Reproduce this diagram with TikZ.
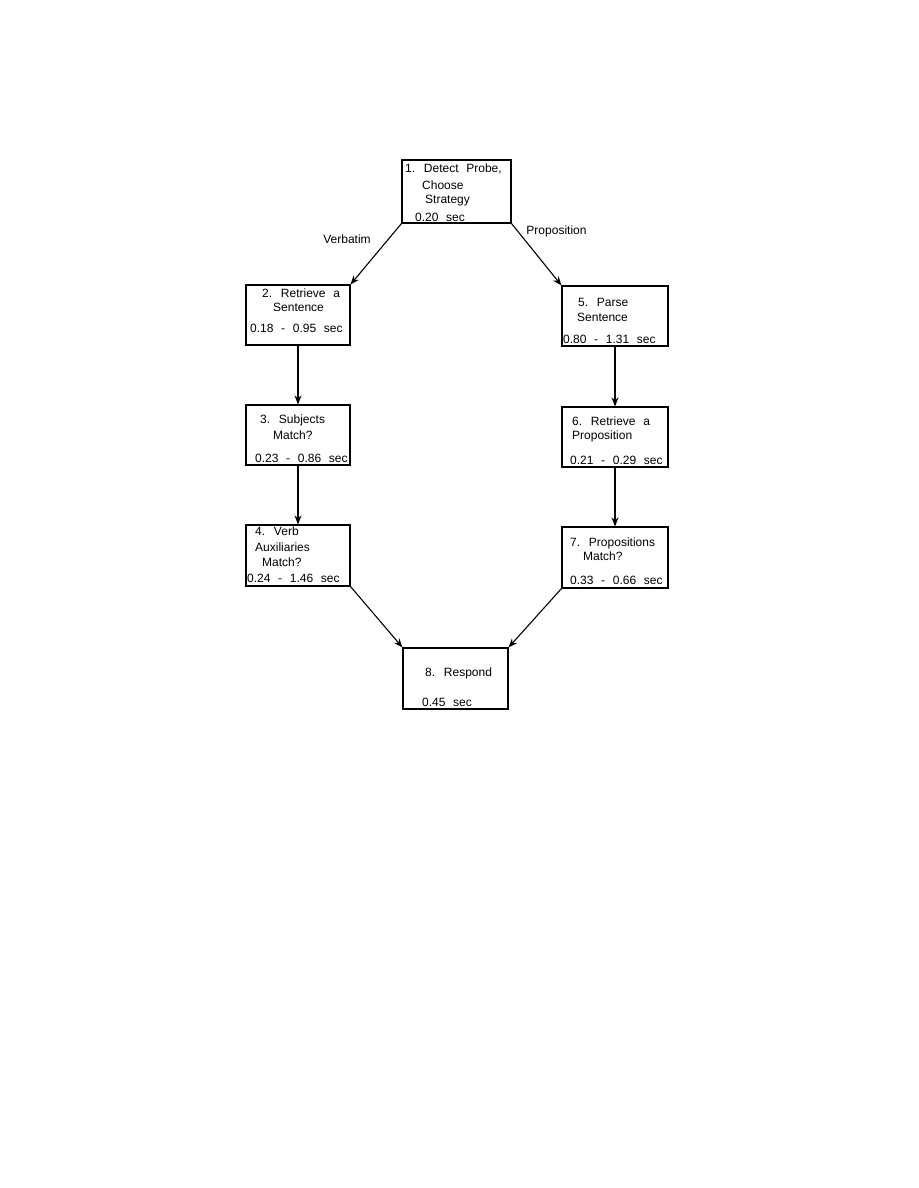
\documentclass[tikz,border=0pt]{standalone}
\usepackage{fontspec}
\setmainfont{Liberation Sans}[WordSpace=2.3]
\usetikzlibrary{arrows.meta}
\tikzset{
  box/.style={draw, line width=1.1pt, inner sep=0pt},
  txt/.style={anchor=west, inner sep=0pt, font=\fontsize{12}{14.5}\selectfont},
  lbl/.style={inner sep=0pt, font=\fontsize{12}{14.5}\selectfont},
  arr/.style={line width=1.1pt, -{Stealth[length=9pt,width=7pt]}}
}
\begin{document}
\begin{tikzpicture}[x=1pt,y=-1pt]
\useasboundingbox (0,0) rectangle (918,1188);
% boxes
\node[box, minimum width=109pt, minimum height=63pt] (b1) at (456.5,191.5) {};
\node[box, minimum width=104pt, minimum height=60pt] (b2) at (298,315) {};
\node[box, minimum width=104pt, minimum height=60pt] (b3) at (298,435) {};
\node[box, minimum width=104pt, minimum height=61pt] (b4) at (298,555.5) {};
\node[box, minimum width=106pt, minimum height=60pt] (b5) at (615,316) {};
\node[box, minimum width=106pt, minimum height=60pt] (b6) at (615,437) {};
\node[box, minimum width=106pt, minimum height=61pt] (b7) at (615,557.5) {};
\node[box, minimum width=105pt, minimum height=61pt] (b8) at (455.5,678.5) {};
% texts
\node[txt] (t1a) at (405,169) {1. Detect Probe,};
\node[txt] (t1b) at (422,185) {Choose};
\node[txt] (t1c) at (425,201) {Strategy};
\node[txt] (t1d) at (415,217) {0.20 sec};
\node[txt] (t2a) at (262,293) {2. Retrieve a};
\node[txt] (t2b) at (273,307) {Sentence};
\node[txt] (t2c) at (250,328) {0.18 - 0.95 sec};
\node[txt] (t3a) at (260,420) {3. Subjects};
\node[txt] (t3b) at (273,435) {Match?};
\node[txt] (t3c) at (255,458) {0.23 - 0.86 sec};
\node[txt] (t4a) at (255,531) {4. Verb};
\node[txt] (t4b) at (255,547) {Auxiliaries};
\node[txt] (t4c) at (262,562) {Match?};
\node[txt] (t4d) at (247,578) {0.24 - 1.46 sec};
\node[txt] (t5a) at (578,302) {5. Parse};
\node[txt] (t5b) at (577,317) {Sentence};
\node[txt] (t5c) at (563,339) {0.80 - 1.31 sec};
\node[txt] (t6a) at (572,421) {6. Retrieve a};
\node[txt] (t6b) at (572,436) {Proposition};
\node[txt] (t6c) at (570,460) {0.21 - 0.29 sec};
\node[txt] (t7a) at (570,543) {7. Propositions};
\node[txt] (t7b) at (583,556) {Match?};
\node[txt] (t7c) at (570,580) {0.33 - 0.66 sec};
\node[txt] (t8a) at (425,673) {8. Respond};
\node[txt] (t8b) at (422,702) {0.45 sec};
% edge labels
\node[lbl] (lv) at (347,239) {Verbatim};
\node[lbl] (lp) at (556.5,231) {Proposition};
% connectors
\draw[arr] (b1.south west) -- (b2.north east);
\draw[arr] (b1.south east) -- (b5.north west);
\draw[arr] (b2.south) -- (b3.north);
\draw[arr] (b3.south) -- (b4.north);
\draw[arr] (b5.south) -- (b6.north);
\draw[arr] (b6.south) -- (b7.north);
\draw[arr] (b4.south east) -- (b8.north west);
\draw[arr] (b7.south west) -- (b8.north east);
\end{tikzpicture}
\end{document}
